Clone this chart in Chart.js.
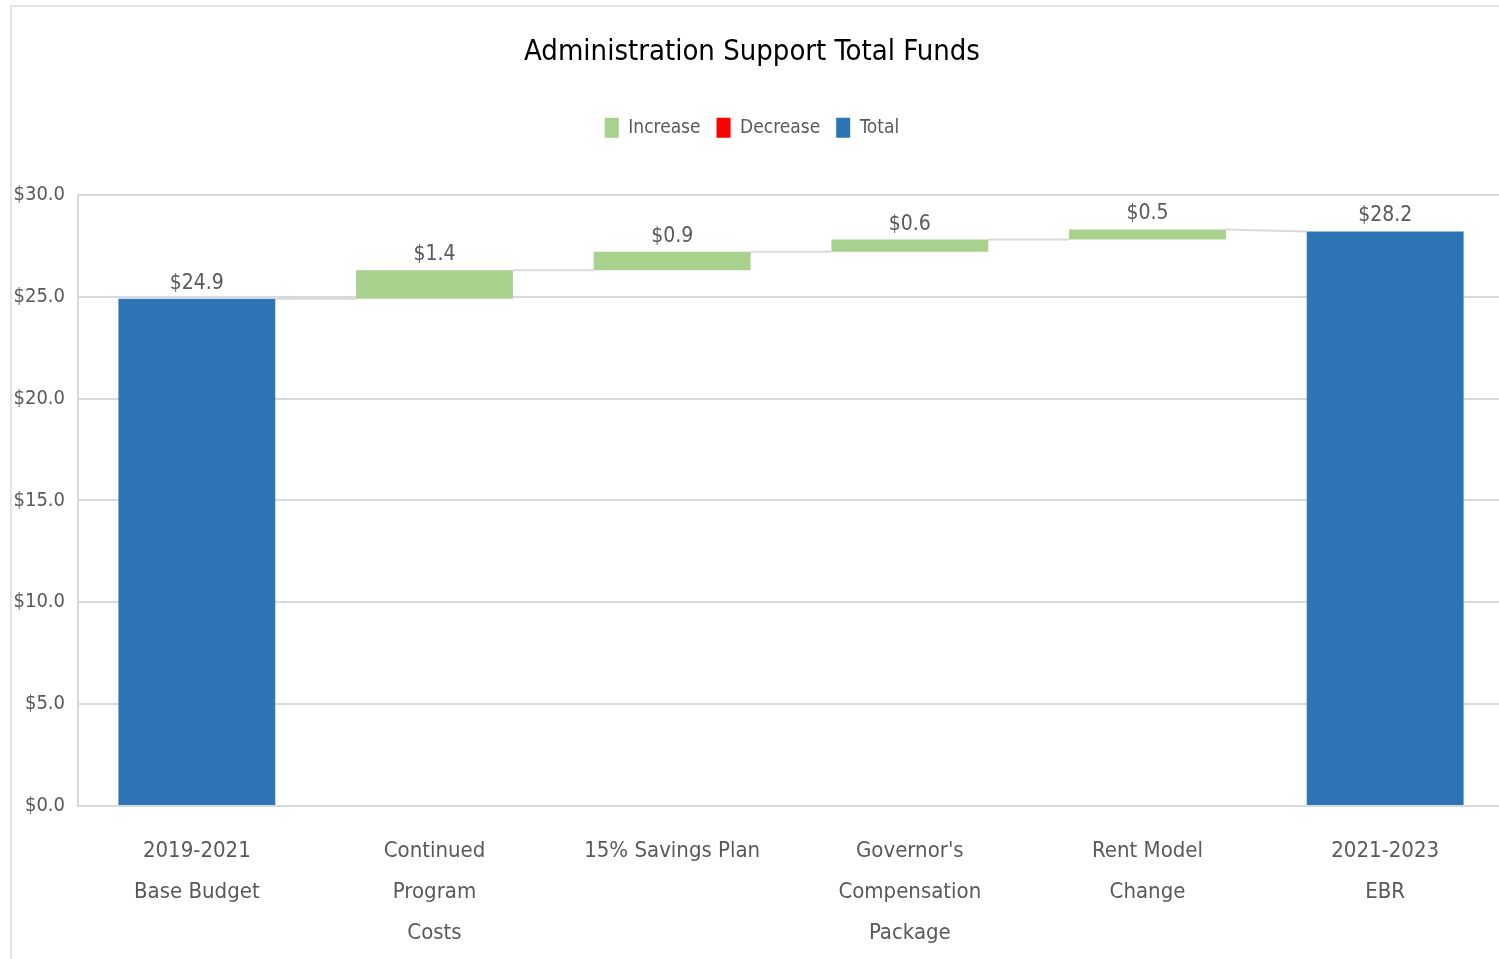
<!DOCTYPE html>
<html>
<head>
<meta charset="utf-8">
<script src="https://cdn.jsdelivr.net/npm/chart.js@4.4.1/dist/chart.umd.min.js"></script>
<style>
  html, body { margin: 0; padding: 0; background: #fff; overflow: hidden; }
  .frame { position: absolute; left: 10px; top: 5px; width: 1600px; height: 1000px;
           border-left: 2px solid #e3e3e3; border-top: 2px solid #e3e3e3; }
  #chart { position: absolute; left: 0; top: 0; }
</style>
</head>
<body>
<div class="frame"></div>
<canvas id="chart" width="1510" height="959"></canvas>
<script>
const categories = [
  ['2019-2021', 'Base Budget'],
  ['Continued', 'Program', 'Costs'],
  '15% Savings Plan',
  ["Governor's", 'Compensation', 'Package'],
  ['Rent Model', 'Change'],
  ['2021-2023', 'EBR']
];
const stepValues = [24.9, 1.4, 0.9, 0.6, 0.5, 28.2];
const stepKinds = ['total', 'increase', 'increase', 'increase', 'increase', 'total'];
const yTickValues = [0, 5, 10, 15, 20, 25, 30];

const FONT = '"Liberation Sans Narrow", "DejaVu Sans Condensed", sans-serif';
const GREY = '#595959';

// build floating ranges for the waterfall
let running = 0;
const ranges = stepValues.map((v, i) => {
  if (stepKinds[i] === 'total') { running = v; return [0, v]; }
  if (stepKinds[i] === 'increase') { const r = [running, running + v]; running += v; return r; }
  const r = [running - v, running]; running -= v; return r;
});
const pick = kind => ranges.map((r, i) => stepKinds[i] === kind ? r : null);

function barElements(chart) {
  return categories.map((c, i) => {
    for (let d = 0; d < chart.data.datasets.length; d++) {
      if (chart.data.datasets[d].data[i] != null) return chart.getDatasetMeta(d).data[i];
    }
  });
}

const waterfallExtras = {
  id: 'waterfallExtras',
  afterInit(chart) {
    // leave a gap under the legend like the original
    const fit = chart.legend.fit;
    chart.legend.fit = function () { fit.call(this); this.height += 47; };
  },
  beforeDatasetsDraw(chart) {
    const { ctx, scales: { y } } = chart;
    const bars = barElements(chart);
    ctx.save();
    ctx.strokeStyle = '#d9d9d9';
    ctx.lineWidth = 2;
    for (let i = 0; i < bars.length - 1; i++) {
      const endVal = stepKinds[i] === 'decrease' ? ranges[i][0] : ranges[i][1];
      const nextVal = stepKinds[i + 1] === 'increase' ? ranges[i + 1][0] : ranges[i + 1][1];
      const a = bars[i], b = bars[i + 1];
      ctx.beginPath();
      ctx.moveTo(a.x + a.width / 2, y.getPixelForValue(endVal));
      ctx.lineTo(b.x - b.width / 2, y.getPixelForValue(nextVal));
      ctx.stroke();
    }
    ctx.restore();
  },
  afterDatasetsDraw(chart) {
    const { ctx, scales: { y } } = chart;
    const bars = barElements(chart);
    ctx.save();
    ctx.font = '21px ' + FONT;
    ctx.fillStyle = GREY;
    ctx.textAlign = 'center';
    ctx.textBaseline = 'bottom';
    bars.forEach((bar, i) => {
      const top = y.getPixelForValue(Math.max(ranges[i][0], ranges[i][1]));
      ctx.fillText('$' + stepValues[i].toFixed(1), bar.x, top - 5);
    });
    ctx.restore();
  }
};

new Chart(document.getElementById('chart'), {
  type: 'bar',
  data: {
    labels: categories,
    datasets: [
      { label: 'Increase', data: pick('increase'), backgroundColor: '#a9d18e', skipNull: true },
      { label: 'Decrease', data: pick('decrease'), backgroundColor: '#ff0000', skipNull: true },
      { label: 'Total', data: pick('total'), backgroundColor: '#2e75b6', skipNull: true }
    ]
  },
  options: {
    responsive: false,
    animation: false,
    devicePixelRatio: 1,
    layout: { padding: { left: 0, right: 6, top: 0, bottom: 0 } },
    datasets: { bar: { barPercentage: 0.66, categoryPercentage: 1 } },
    plugins: {
      title: {
        display: true,
        text: 'Administration Support Total Funds',
        color: '#000',
        font: { family: FONT, size: 29, weight: 'normal' },
        padding: { top: 35, bottom: 32 }
      },
      legend: {
        display: true,
        position: 'top',
        labels: {
          color: GREY,
          font: { family: FONT, size: 19 },
          boxWidth: 14,
          boxHeight: 20,
          padding: 16
        }
      },
      tooltip: { enabled: false }
    },
    scales: {
      x: {
        afterFit(scale) { scale.height = 153; },
        grid: { display: false },
        border: { display: true, color: '#d9d9d9', width: 2 },
        ticks: {
          color: GREY,
          font: { family: FONT, size: 22, lineHeight: 1.86 },
          padding: 17,
          maxRotation: 0,
          autoSkip: false
        }
      },
      y: {
        min: 0,
        max: 30,
        afterFit(scale) { scale.width = 78; },
        afterBuildTicks(scale) { scale.ticks = yTickValues.map(v => ({ value: v })); },
        grid: { color: '#d9d9d9', lineWidth: 2, drawTicks: false },
        border: { display: true, color: '#d9d9d9', width: 2 },
        ticks: {
          color: GREY,
          font: { family: FONT, size: 20 },
          padding: 13,
          callback: v => '$' + Number(v).toFixed(1)
        }
      }
    }
  },
  plugins: [waterfallExtras]
});
</script>
</body>
</html>
